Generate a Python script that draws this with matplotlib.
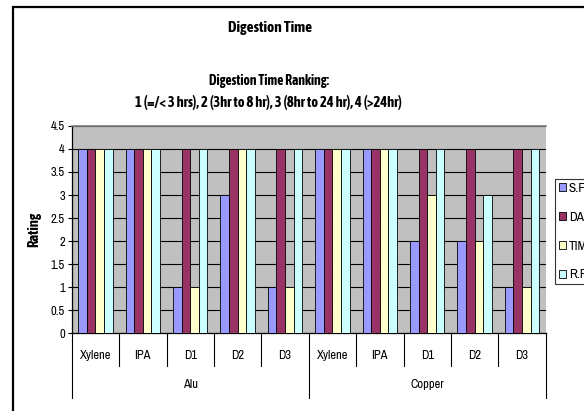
import matplotlib
matplotlib.use("Agg")
import matplotlib.pyplot as plt
from matplotlib.patches import Rectangle
from matplotlib.lines import Line2D
import numpy as np

plt.rcParams['font.family'] = ['Archivo Narrow', 'Liberation Sans', 'DejaVu Sans']
BOLD = ['Asap Condensed', 'Liberation Sans', 'DejaVu Sans']

# ---- data ----
groups = ["Alu", "Copper"]
categories = ["Xylene", "IPA", "D1", "D2", "D3"]
series_names = ["S.F.A.", "DAS", "TIMS", "R.F.A."]
sf  = [4, 4, 1, 3, 1,   4, 4, 2, 2, 1]
da  = [4, 4, 4, 4, 4,   4, 4, 4, 4, 4]
tim = [4, 4, 1, 4, 1,   4, 4, 3, 2, 1]
rf  = [4, 4, 4, 4, 4,   4, 4, 4, 3, 4]
colors = ["#9999FF", "#993366", "#FFFFCC", "#CCFFFF"]
yticks = [0, 0.5, 1, 1.5, 2, 2.5, 3, 3.5, 4, 4.5]

W, H = 584, 411
fig = plt.figure(figsize=(W / 100, H / 100), dpi=100)

# outer chart frame (extends beyond right/bottom edges)
fig.patches.append(Rectangle((12.5 / W, 1 - 420 / H), 600 / W, (420 - 6.5) / H,
                             transform=fig.transFigure, fill=False,
                             edgecolor="black", linewidth=1.6, zorder=0))

left, right = 71.7 / W, 545.7 / W
bottom, top = 1 - 333.3 / H, 1 - 125.9 / H
ax = fig.add_axes([left, bottom, right - left, top - bottom])
ax.set_facecolor("#C0C0C0")

n = len(sf)
x = np.arange(n)
bw = 1 / 5.5
for i, (vals, c, name) in enumerate(zip([sf, da, tim, rf], colors, series_names)):
    ax.bar(x + (i - 1.5) * bw, vals, width=bw, color=c, edgecolor="black",
           linewidth=0.6, label=name, zorder=3)

ax.set_xlim(-0.5, n - 0.5)
ax.set_ylim(0, 4.5)
ax.set_yticks(yticks)
ax.set_yticklabels([f"{t:g}" for t in yticks], fontsize=9)
ax.yaxis.grid(True, color="black", linewidth=0.8, zorder=1)
ax.set_axisbelow(True)
ax.tick_params(axis="y", length=3, width=0.8, pad=2)
ax.set_xticks([])
ax.spines["right"].set_visible(False)
ax.spines["top"].set_color("#808080")
ax.spines["top"].set_linewidth(1.2)
ax.spines["left"].set_linewidth(0.9)
ax.spines["bottom"].set_linewidth(0.9)

ax.set_ylabel("Rating", fontsize=10.5, fontweight="bold", family=BOLD, labelpad=7)

# category separators & labels
trans = ax.get_xaxis_transform()
inner_y = -(366 - 333.3) / 207.4
outer_y = -(398 - 333.3) / 207.4
for k in range(n + 1):
    xx = k - 0.5
    y2 = outer_y if k % 5 == 0 else inner_y
    ax.add_line(Line2D([xx, xx], [0, y2], transform=trans, color="black",
                       linewidth=0.8, clip_on=False))
cat_y = -(355 - 333.3) / 207.4
grp_y = -(384 - 333.3) / 207.4
for k in range(n):
    ax.text(k, cat_y, categories[k % 5], transform=trans, ha="center",
            va="center", fontsize=9)
for g, name in enumerate(groups):
    ax.text(g * 5 + 2, grp_y, name, transform=trans, ha="center",
            va="center", fontsize=9)

# titles
fig.text(270 / W, 1 - 28 / H, "Digestion Time", ha="center", va="center",
         fontsize=11, fontweight="bold", family=BOLD)
fig.text(269 / W, 1 - 81 / H, "Digestion Time Ranking:", ha="center",
         va="center", fontsize=9.8, fontweight="bold", family=BOLD)
fig.text(268 / W, 1 - 102 / H,
         "1 (=/< 3 hrs), 2 (3hr to 8 hr), 3 (8hr to 24 hr), 4 (>24hr)",
         ha="center", va="center", fontsize=10.4, fontweight="bold", family=BOLD)

# legend
leg = ax.legend(loc="upper left", bbox_to_anchor=(555 / W, 1 - 179 / H),
                bbox_transform=fig.transFigure, fontsize=9.5, frameon=True,
                fancybox=False, edgecolor="black", handlelength=0.55,
                handleheight=0.6, handletextpad=0.2, labelspacing=1.35,
                borderpad=0.3, borderaxespad=0)
leg.get_frame().set_linewidth(0.8)
for h in leg.legend_handles:
    h.set_linewidth(0.6)

fig.savefig("out.png", dpi=100)
